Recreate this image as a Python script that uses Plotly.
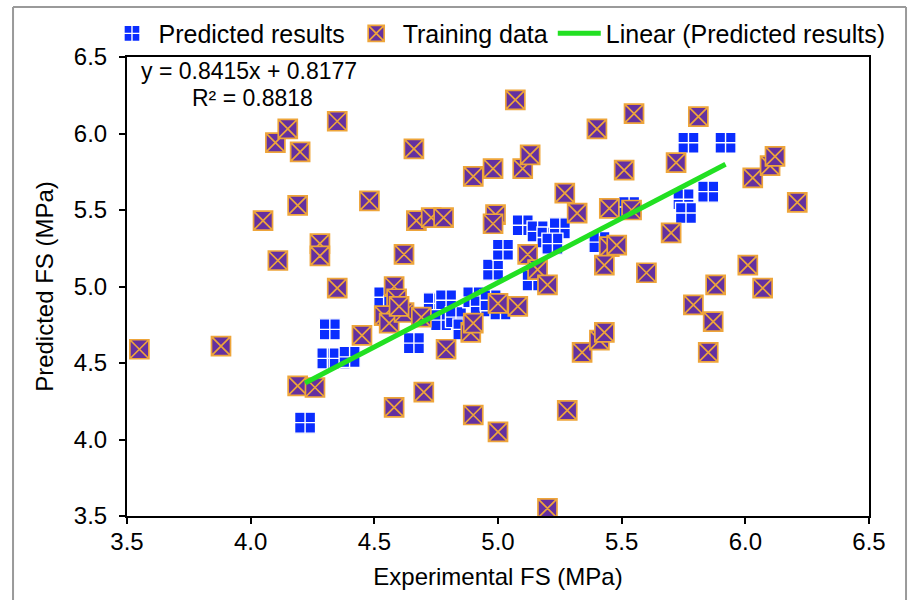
import plotly.graph_objects as go

# Predicted results (blue squares)
pred_x = [4.22, 4.32, 4.31, 4.36, 4.40, 4.54, 4.58, 4.66, 4.74, 4.79, 4.77, 4.83,
          4.86, 4.90, 4.93, 4.97, 5.01, 4.98, 5.02, 5.10, 5.16, 5.20, 5.25, 5.22,
          5.14, 5.41, 5.53, 5.75, 5.76, 5.85, 5.77, 5.92]
pred_y = [4.11, 4.72, 4.53, 4.53, 4.54, 4.93, 4.87, 4.63, 4.89, 4.91, 4.78, 4.80,
          4.72, 4.93, 4.87, 4.91, 4.85, 5.11, 5.24, 5.40, 5.36, 5.32, 5.38, 5.28,
          5.04, 5.29, 5.52, 5.57, 5.48, 5.62, 5.94, 5.94]

# Training data (purple squares)
train_x = [4.10, 4.15, 4.20, 4.35, 3.55, 3.88, 4.05, 4.11, 4.19, 4.28, 4.28, 4.48,
           4.66, 4.35, 4.19, 4.26, 4.45, 4.58, 4.59, 4.54, 4.56, 4.62, 4.69, 4.79,
           4.70, 4.58, 4.90, 4.89, 4.90, 4.67, 4.73, 4.78, 4.99, 4.62, 4.60, 5.12,
           5.16, 5.20, 5.00, 5.08, 5.32, 5.45, 5.54, 5.70, 5.45, 5.48, 5.43, 5.60,
           6.01, 5.88, 5.79, 5.87, 5.34, 5.41, 5.43, 5.85, 5.55, 5.40, 5.81, 5.72,
           5.51, 5.27, 6.03, 6.10, 6.12, 6.21, 6.07, 5.00, 5.20, 5.28, 5.07, 4.90,
           4.98, 4.98, 5.10, 5.13]
train_y = [5.94, 6.03, 5.88, 6.08, 4.59, 4.61, 5.43, 5.17, 5.53, 5.28, 5.20, 5.56,
           5.90, 4.99, 4.35, 4.34, 4.68, 5.00, 4.92, 4.81, 4.76, 4.83, 4.80, 4.59,
           4.31, 4.21, 4.16, 4.70, 4.76, 5.43, 5.45, 5.45, 5.47, 5.21, 4.87, 5.21,
           5.11, 5.01, 4.89, 4.87, 5.48, 5.51, 5.50, 5.35, 5.26, 5.27, 5.14, 5.09,
           5.14, 5.01, 4.88, 4.77, 4.57, 4.65, 4.70, 4.57, 6.13, 6.03, 6.11, 5.81,
           5.76, 5.61, 5.71, 5.79, 5.85, 5.55, 4.99, 4.05, 3.55, 4.19, 6.22, 5.72,
           5.77, 5.41, 5.77, 5.86]

# Linear fit of the predicted results
SLOPE = 0.8415
INTERCEPT = 0.8177
R2 = 0.8818

x_ticks = [3.5, 4.0, 4.5, 5.0, 5.5, 6.0, 6.5]
y_ticks = [3.5, 4.0, 4.5, 5.0, 5.5, 6.0, 6.5]

FONT = "Liberation Sans, Arial, sans-serif"
BLUE = "#0a2dff"
PURPLE = "#6430a0"
ORANGE = "#eea53a"
GREEN = "#22e022"

fit_x = [min(pred_x), max(pred_x)]
fit_y = [SLOPE * v + INTERCEPT for v in fit_x]

fig = go.Figure()
fig.add_trace(go.Scatter(
    x=pred_x, y=pred_y, mode="markers", name="Predicted results",
    marker=dict(symbol="square-cross", size=21, color=BLUE,
                line=dict(color="white", width=1.4)),
))
fig.add_trace(go.Scatter(
    x=train_x, y=train_y, mode="markers", name="Training data",
    marker=dict(symbol="square-x", size=19, color=PURPLE,
                line=dict(color=ORANGE, width=1.7)),
))
fig.add_trace(go.Scatter(
    x=fit_x, y=fit_y, mode="lines", name="Linear (Predicted results)",
    line=dict(color=GREEN, width=5),
))

axis_common = dict(
    showgrid=False, zeroline=False, showline=True, linecolor="black",
    linewidth=2, mirror=True, ticks="outside", ticklen=6, tickwidth=1.5,
    tickcolor="black", automargin=False,
    tickfont=dict(family=FONT, size=24, color="black"),
)

fig.update_xaxes(
    range=[3.5, 6.5], tickvals=x_ticks, ticktext=[f"{v:.1f}" for v in x_ticks],
    ticklabelstandoff=-3,
    title=dict(text="Experimental FS (MPa)", standoff=14,
               font=dict(family=FONT, size=24, color="black")),
    **axis_common,
)
fig.update_yaxes(
    range=[3.5, 6.5], tickvals=y_ticks, ticktext=[f"{v:.1f}" for v in y_ticks],
    ticklabelstandoff=7,
    title=dict(text="Predicted FS (MPa)", standoff=13,
               font=dict(family=FONT, size=24, color="black")),
    **axis_common,
)

fig.add_annotation(
    xref="paper", yref="paper", x=0.164, y=0.97, xanchor="center", yanchor="middle",
    text=f"y = {SLOPE:.4f}x + {INTERCEPT:.4f}", showarrow=False,
    font=dict(family=FONT, size=23, color="black"),
)
fig.add_annotation(
    xref="paper", yref="paper", x=0.169, y=0.911, xanchor="center", yanchor="middle",
    text=f"R² = {R2:.4f}", showarrow=False,
    font=dict(family=FONT, size=23, color="black"),
)

# Outer frame around the figure
frame = dict(type="line", xref="paper", yref="paper",
             line=dict(color="#9a9a9a", width=2))
fig.add_shape(x0=-0.1536, x1=-0.1536, y0=-0.183, y1=1.109, **frame)
fig.add_shape(x0=-0.1536, x1=1.0499, y0=1.109, y1=1.109, **frame)
fig.add_shape(x0=1.0499, x1=1.0499, y0=-0.183, y1=1.109, **frame)

fig.update_layout(
    width=908, height=601,
    margin=dict(l=127, r=39, t=57, b=85, autoexpand=False),
    paper_bgcolor="white", plot_bgcolor="white",
    font=dict(family=FONT, size=24, color="black"),
    showlegend=True,
    legend=dict(orientation="h", x=-0.029, y=1.051, xanchor="left",
                yanchor="middle", itemwidth=43, bgcolor="rgba(0,0,0,0)",
                font=dict(family=FONT, size=25, color="black")),
)

fig.write_html("out.html")
